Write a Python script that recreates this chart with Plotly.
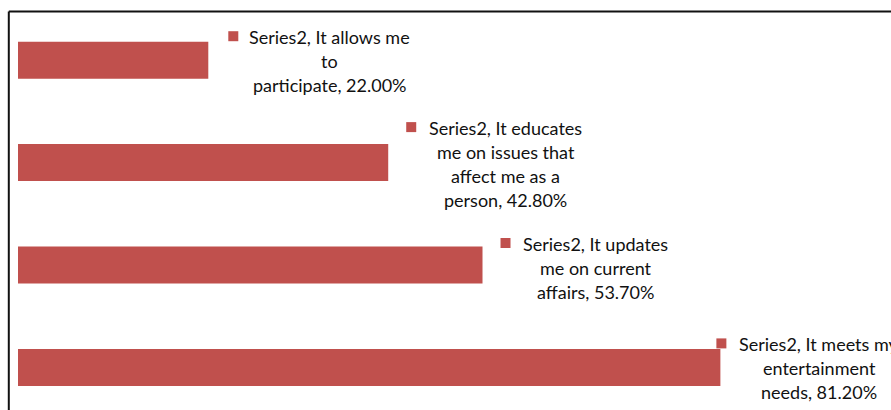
import plotly.graph_objects as go

# ---- data ----
series_name = "Series2"
categories = [
    "It allows me to participate",
    "It educates me on issues that affect me as a person",
    "It updates me on current affairs",
    "It meets my entertainment needs",
]
values = [22.0, 42.8, 53.7, 81.2]
# line wrapping of each data label (as shown in the chart)
label_lines = [
    ["Series2, It allows me", "to", "participate, 22.00%"],
    ["Series2, It educates", "me on issues that", "affect me as a", "person, 42.80%"],
    ["Series2, It updates", "me on current", "affairs, 53.70%"],
    ["Series2, It meets my", "entertainment", "needs, 81.20%"],
]

# ---- style / placement ----
BAR = "#C0504D"
TXT = "#111111"
FONT = "Lato"
FS = 18
LINE_H = 24
# pixel offsets of label blocks relative to bar end (x) and bar centre (y)
block_dx = [121.5, 117.5, 113, 99]
block_dy = [1, 1.5, 3, 1]
marker_dx = [20, 18, 18, -4]

fig = go.Figure()
fig.add_trace(go.Bar(
    x=values, y=categories, orientation="h",
    marker=dict(color=BAR, line=dict(width=0)),
    width=0.361, name=series_name, showlegend=False, hoverinfo="skip",
))

annotations = []
shapes = []
for i, (cat, val, lines) in enumerate(zip(categories, values, label_lines)):
    n = len(lines)
    top_line_shift = block_dy[i] - (n - 1) * LINE_H / 2  # pixels, downward positive
    for k, line in enumerate(lines):
        dy = top_line_shift + k * LINE_H
        annotations.append(dict(
            x=val, y=cat, xref="x", yref="y", text=line, showarrow=False,
            xanchor="center", yanchor="middle", xshift=block_dx[i], yshift=-dy,
            font=dict(family=FONT, size=FS, color=TXT),
        ))
    # legend-key square next to the first line
    my = top_line_shift - 1
    shapes.append(dict(
        type="rect", xref="x", yref="y", xsizemode="pixel", ysizemode="pixel",
        xanchor=val, yanchor=cat,
        x0=marker_dx[i], x1=marker_dx[i] + 10,
        y0=-my - 5, y1=-my + 5,
        fillcolor=BAR, line=dict(width=0),
    ))

# chart frame (top and left edges visible)
L, R = 18, 8
W, H = 891, 410
plot_w = W - L - R
fx = (8.8 - L) / plot_w
fy = 1 - 11.5 / H
shapes.append(dict(type="line", xref="paper", yref="paper", x0=fx, x1=1 + R / plot_w,
                   y0=fy, y1=fy, line=dict(color="#111111", width=2)))
shapes.append(dict(type="line", xref="paper", yref="paper", x0=fx, x1=fx,
                   y0=fy, y1=0, line=dict(color="#111111", width=2)))

fig.update_layout(
    width=W, height=H,
    margin=dict(l=L, r=R, t=0, b=0),
    paper_bgcolor="white", plot_bgcolor="white",
    xaxis=dict(range=[0, 100], visible=False, fixedrange=True),
    yaxis=dict(type="category", categoryorder="array", categoryarray=categories,
               range=[3.416, -0.588], visible=False, fixedrange=True),
    annotations=annotations, shapes=shapes,
    showlegend=False,
)

fig.write_html(
    "out.html",
    config={"displayModeBar": False},
    post_script="document.body.style.margin='0';document.body.style.overflow='hidden';",
)
